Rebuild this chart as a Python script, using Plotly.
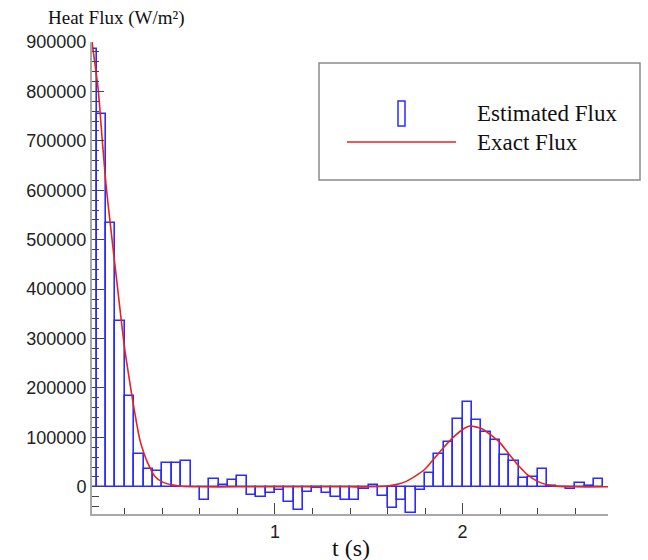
import plotly.graph_objects as go

# ---- data ----
bar_width = 0.05
bar_centers = [0.025 + 0.05 * k for k in range(55)]
estimated_flux = [
    885000, 755000, 533000, 336000, 183000, 67000, 36000, 32000, 49000, 48000,
    52000, 0, -27000, 16000, 4000, 14000, 21000, -16000, -21000, -13000,
    -6000, -31000, -46000, -11000, -2000, -12000, -21000, -26000, -26000, -5000,
    4000, -18000, -42000, -27000, -53000, -6000, 28000, 67000, 91000, 138000,
    171000, 135000, 110000, 95000, 64000, 52000, 18000, 20000, 36000, 1000,
    0, -4000, 8000, 1000, 15000,
]
exact_t = [0.025, 0.058, 0.08, 0.1, 0.12, 0.15, 0.18, 0.2, 0.225, 0.25, 0.28, 0.3, 0.32,
           0.36, 0.4, 0.45, 0.5, 0.6, 0.8, 1.0, 1.2, 1.4, 1.5, 1.6, 1.65, 1.7, 1.75,
           1.8, 1.85, 1.9, 1.95, 2.0, 2.04, 2.1, 2.15, 2.2, 2.25, 2.3, 2.35, 2.4,
           2.45, 2.5, 2.6, 2.775]
exact_flux = [900000, 804000, 700000, 610000, 540000, 440000, 340000, 277000, 215000,
              156000, 95000, 70000, 50000, 21000, 10000, 4000, 1000, 0, 0, 0, 0, 0, 0,
              1500, 5000, 11000, 22000, 36000, 58000, 80000, 100000, 116000, 123000,
              118000, 105000, 89000, 65000, 42000, 23000, 11000, 4000, 1500, 0, 0]
x_ticks = [1, 2]
y_ticks = [0, 100000, 200000, 300000, 400000, 500000, 600000, 700000, 800000, 900000]
series_names = ["Estimated Flux", "Exact Flux"]

BLUE = "#2b2bff"
RED = "#e52222"

# plot area in pixels
L, R, T, B = 92, 608, 42, 514
W, H = 648, 560


def px(x, y):
    return (x - L) / (R - L), (B - y) / (B - T)


fig = go.Figure()
fig.add_trace(go.Bar(
    x=bar_centers, y=estimated_flux, width=bar_width,
    marker=dict(color="rgba(0,0,0,0)", line=dict(color=BLUE, width=1.6)),
    name=series_names[0], showlegend=False,
))
fig.add_trace(go.Scatter(
    x=exact_t, y=exact_flux, mode="lines", line=dict(color=RED, width=1.6, shape="spline", smoothing=0.6),
    name=series_names[1], showlegend=False,
))

axis_font = dict(family="Liberation Sans, Arial, sans-serif", size=18, color="#222")
fig.update_layout(
    width=W, height=H,
    margin=dict(l=L, r=W - R, t=T, b=H - B),
    paper_bgcolor="white", plot_bgcolor="white",
    bargap=0,
    xaxis=dict(
        range=[0.025, 2.775], tickvals=x_ticks, ticktext=[str(v) for v in x_ticks],
        ticks="inside", ticklen=11, tickwidth=1.3, tickcolor="#444",
        showline=True, linecolor="#a8a8a8", linewidth=2,
        showgrid=False, zeroline=False, tickfont=axis_font,
        minor=dict(dtick=0.2, tick0=0, ticks="inside", ticklen=6, tickwidth=1.2, tickcolor="#444", showgrid=False),
    ),
    yaxis=dict(
        range=[-55000, 900000], tickvals=y_ticks, ticktext=[str(v) for v in y_ticks],
        ticks="inside", ticklen=12, tickwidth=1.3, tickcolor="#444",
        showline=True, linecolor="#a8a8a8", linewidth=2,
        showgrid=False, zeroline=False, tickfont=axis_font,
        minor=dict(dtick=20000, tick0=0, ticks="inside", ticklen=7, tickwidth=1.2, tickcolor="#444", showgrid=False),
    ),
)

serif = "Liberation Serif, Times New Roman, serif"
# axis titles
x0, y0 = px(116, 18)
fig.add_annotation(x=x0, y=y0, xref="paper", yref="paper", text="Heat Flux (W/m²)", showarrow=False,
                   xanchor="center", yanchor="middle", font=dict(family=serif, size=19, color="#111"))
x0, y0 = px(351, 548)
fig.add_annotation(x=x0, y=y0, xref="paper", yref="paper", text="t (s)", showarrow=False,
                   xanchor="center", yanchor="middle", font=dict(family=serif, size=24, color="#111"))

# legend box drawn manually
bx0, by0 = px(319, 180)
bx1, by1 = px(640, 63)
fig.add_shape(type="rect", xref="paper", yref="paper", x0=bx0, y0=by0, x1=bx1, y1=by1,
              line=dict(color="#8a8a8a", width=1.5), fillcolor="white", layer="above")
ix0, iy0 = px(398, 126)
ix1, iy1 = px(405, 101)
fig.add_shape(type="rect", xref="paper", yref="paper", x0=ix0, y0=iy0, x1=ix1, y1=iy1,
              line=dict(color=BLUE, width=1.5), fillcolor="rgba(0,0,0,0)", layer="above")
lx0, ly0 = px(347, 142)
lx1, _ = px(456, 142)
fig.add_shape(type="line", xref="paper", yref="paper", x0=lx0, y0=ly0, x1=lx1, y1=ly0,
              line=dict(color=RED, width=1.6), layer="above")
for name, ypix in zip(series_names, [113, 142]):
    tx, ty = px(475, ypix)
    fig.add_annotation(x=tx, y=ty, xref="paper", yref="paper", text=name, showarrow=False,
                       xanchor="left", yanchor="middle", font=dict(family=serif, size=23, color="#111"))

fig.write_html("out.html")
